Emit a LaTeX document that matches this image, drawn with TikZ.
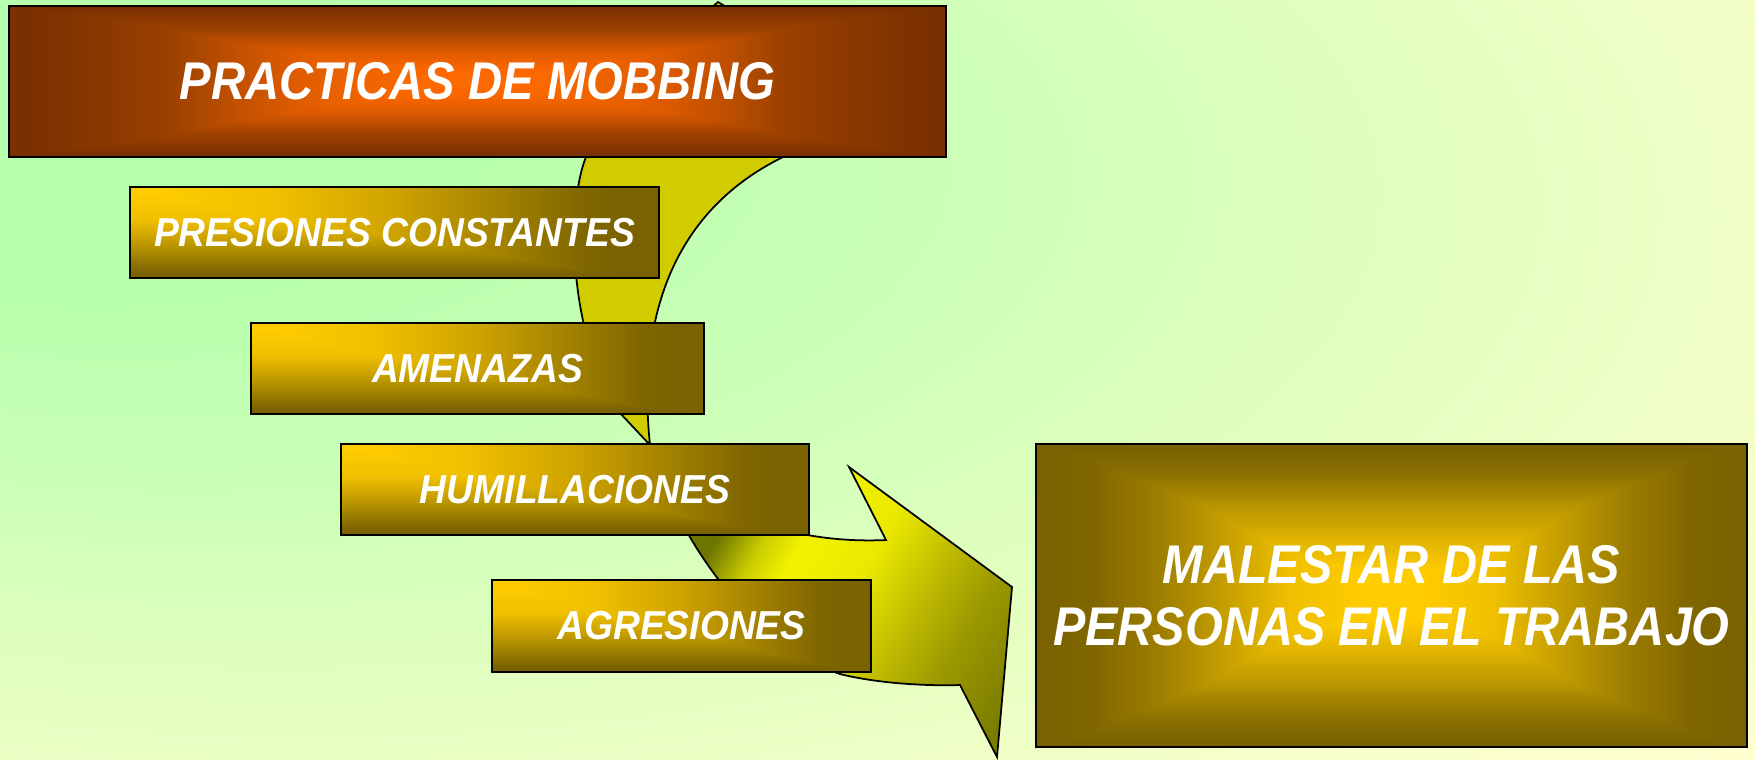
\documentclass[tikz,border=0pt]{standalone}
\usepackage{fontspec}
\setmainfont{Liberation Sans}
\newfontfamily\titlefont[FakeStretch=0.89]{Liberation Sans}
\newfontfamily\itemfont[FakeStretch=0.92]{Liberation Sans}
\usepackage{xcolor}
\usepackage{tikz}
\definecolor{bgGreen}{RGB}{182,255,172}
\definecolor{bgMint}{RGB}{204,255,184}
\definecolor{bgPale}{RGB}{222,255,190}
\definecolor{bgLime}{RGB}{232,255,194}
\definecolor{bgLemon}{RGB}{244,255,200}
\definecolor{bgCream}{RGB}{255,255,208}
\definecolor{mobOrange}{RGB}{255,106,0}
\definecolor{mobBrown}{RGB}{122,48,0}
\definecolor{titleToneA}{RGB}{138,56,0}
\definecolor{titleToneB}{RGB}{154,64,0}
\definecolor{titleToneC}{RGB}{192,80,0}
\definecolor{titleToneD}{RGB}{224,92,0}
\definecolor{titleToneE}{RGB}{240,100,0}
\definecolor{titleToneF}{RGB}{160,66,0}
\definecolor{titleToneG}{RGB}{216,88,0}
\definecolor{titleToneH}{RGB}{248,102,0}
\definecolor{mobGold}{RGB}{255,204,0}
\definecolor{mobOlive}{RGB}{122,98,0}
\definecolor{goldToneA}{RGB}{128,102,0}
\definecolor{goldToneB}{RGB}{160,128,0}
\definecolor{goldToneC}{RGB}{200,160,0}
\definecolor{goldToneD}{RGB}{240,192,0}
\definecolor{goldToneE}{RGB}{138,112,0}
\definecolor{goldToneF}{RGB}{184,148,0}
\definecolor{goldToneG}{RGB}{224,180,0}
\definecolor{goldToneH}{RGB}{208,164,0}
\definecolor{goldToneI}{RGB}{154,124,0}
\definecolor{arrowBack}{RGB}{208,204,0}
\definecolor{arrowDark}{RGB}{110,118,0}
\definecolor{arrowLight}{RGB}{242,242,0}
\definecolor{arrowMid}{RGB}{188,184,0}
\definecolor{arrowMoss}{RGB}{124,124,0}
% sombreados
\pgfdeclareradialshading{fondo}{\pgfpoint{-25bp}{18bp}}{color(0bp)=(bgGreen); color(10bp)=(bgGreen); color(22bp)=(bgMint); color(30bp)=(bgPale); color(36bp)=(bgLime); color(42bp)=(bgLemon); color(50bp)=(bgCream); color(100bp)=(bgCream)}
% titulo
\pgfdeclarehorizontalshading{tituloh}{100bp}{color(0bp)=(mobBrown); color(26bp)=(mobBrown); color(30bp)=(titleToneA); color(33.5bp)=(titleToneB); color(37bp)=(titleToneC); color(40.5bp)=(titleToneD); color(44bp)=(titleToneE); color(47.5bp)=(mobOrange); color(52.5bp)=(mobOrange); color(56bp)=(titleToneE); color(59.5bp)=(titleToneD); color(63bp)=(titleToneC); color(66.5bp)=(titleToneB); color(70bp)=(titleToneA); color(74bp)=(mobBrown); color(100bp)=(mobBrown)}
\pgfdeclareverticalshading{titulov}{100bp}{color(0bp)=(mobBrown); color(26bp)=(mobBrown); color(33bp)=(titleToneF); color(39.5bp)=(titleToneG); color(45bp)=(titleToneH); color(50bp)=(mobOrange); color(55bp)=(titleToneH); color(60.5bp)=(titleToneG); color(67bp)=(titleToneF); color(74bp)=(mobBrown); color(100bp)=(mobBrown)}
% malestar
\pgfdeclarehorizontalshading{centroh}{100bp}{color(0bp)=(mobOlive); color(26bp)=(mobOlive); color(29bp)=(goldToneA); color(34bp)=(goldToneB); color(38.5bp)=(goldToneC); color(43bp)=(goldToneD); color(48bp)=(mobGold); color(52bp)=(mobGold); color(57bp)=(goldToneD); color(61.5bp)=(goldToneC); color(66bp)=(goldToneB); color(71bp)=(goldToneA); color(74bp)=(mobOlive); color(100bp)=(mobOlive)}
\pgfdeclareverticalshading{centrov}{100bp}{color(0bp)=(mobOlive); color(26bp)=(mobOlive); color(29.75bp)=(goldToneE); color(35.25bp)=(goldToneF); color(40.75bp)=(goldToneG); color(46bp)=(mobGold); color(54bp)=(mobGold); color(59.25bp)=(goldToneG); color(64.75bp)=(goldToneF); color(70.25bp)=(goldToneE); color(74bp)=(mobOlive); color(100bp)=(mobOlive)}
% cajas pequenas: desde la esquina superior izquierda
\pgfdeclarehorizontalshading{esquinah}{100bp}{color(0bp)=(mobGold); color(27.5bp)=(mobGold); color(38.5bp)=(goldToneD); color(49.5bp)=(goldToneH); color(60.5bp)=(goldToneB); color(68bp)=(goldToneA); color(71.5bp)=(mobOlive); color(100bp)=(mobOlive)}
\pgfdeclareverticalshading{esquinav}{100bp}{color(0bp)=(mobOlive); color(28bp)=(mobOlive); color(35.5bp)=(goldToneI); color(46.5bp)=(goldToneC); color(57.5bp)=(goldToneD); color(72bp)=(mobGold); color(100bp)=(mobGold)}
\pgfdeclarehorizontalshading{flechaluz}{100bp}{color(0bp)=(arrowDark); color(31bp)=(arrowDark); color(37bp)=(arrowDark!30!arrowLight); color(42bp)=(arrowLight); color(52bp)=(arrowLight!85!arrowMid); color(62bp)=(arrowMid); color(69bp)=(arrowMid!50!arrowMoss); color(80bp)=(arrowMoss); color(100bp)=(arrowMoss)}

% relleno de caja: degradado horizontal oscurecido por el vertical
\newcommand\boxglow[2]{%
  \shade[shading=#1] (path picture bounding box.south west) rectangle (path picture bounding box.north east);
  \begin{scope}[blend mode=darken]
    \shade[shading=#2] (path picture bounding box.south west) rectangle (path picture bounding box.north east);
  \end{scope}}

\begin{document}
\begin{tikzpicture}[x=0.01cm, y=-0.01cm,
    itembox/.style={draw=black, line width=0.5pt, fill=mobOlive, path picture={\boxglow{esquinah}{esquinav}},
      inner sep=0pt, text=white, font=\itemfont\bfseries\itshape\fontsize{11.5}{14}\selectfont},
    outline/.style={draw=black, line width=0.5pt}]
    \useasboundingbox (0,0) rectangle (1755,759);
    % Fondo
    \shade[shading=fondo] (0,0) rectangle (1755,759);

    % Flecha curva: parte de atras
    \filldraw[outline, fill=arrowBack] (718,2) .. controls (650,60) and (600,110) .. (586,157)
        .. controls (568,200) and (565,330) .. (620,413) -- (650,445)
        .. controls (638,330) and (665,215) .. (783,157)
        .. controls (830,133) and (860,115) .. (880,100) -- cycle;
    % Flecha curva: parte delantera con punta
    \shade[outline, shading=flechaluz, shading angle=-30] (650,445)
        .. controls (670,520) and (740,640) .. (840,674)
        .. controls (880,684) and (930,686) .. (960,685)
        -- (997,757) -- (1012,587) -- (849,467) -- (886,540)
        .. controls (820,543) and (720,530) .. (650,445) -- cycle;

    % Titulo
    \node[draw=black, line width=0.5pt, fill=mobBrown, path picture={\boxglow{tituloh}{titulov}},
        inner sep=0pt, minimum width=9.37cm, minimum height=1.51cm, text=white,
        font=\titlefont\bfseries\itshape\fontsize{15.1}{18}\selectfont] (titulo) at (477.5,81.5) {PRACTICAS DE MOBBING};

    % Practicas
    \node[itembox, minimum width=5.29cm, minimum height=0.91cm] (presiones) at (394.5,232.5) {PRESIONES CONSTANTES};
    \node[itembox, minimum width=4.53cm, minimum height=0.91cm] (amenazas) at (477.5,368.5) {AMENAZAS};
    \node[itembox, minimum width=4.68cm, minimum height=0.91cm] (humillaciones) at (575,489.5) {HUMILLACIONES};
    \node[itembox, minimum width=3.79cm, minimum height=0.92cm] (agresiones) at (681.5,626) {AGRESIONES};

    % Resultado
    \node[draw=black, line width=0.5pt, fill=mobOlive, path picture={\boxglow{centroh}{centrov}},
        inner sep=0pt, align=center, minimum width=7.11cm, minimum height=3.03cm, text=white,
        font=\titlefont\bfseries\itshape\fontsize{15.5}{17.5}\selectfont] (malestar) at (1391.5,595.5) {MALESTAR DE LAS\\PERSONAS EN EL TRABAJO};
\end{tikzpicture}
\end{document}
